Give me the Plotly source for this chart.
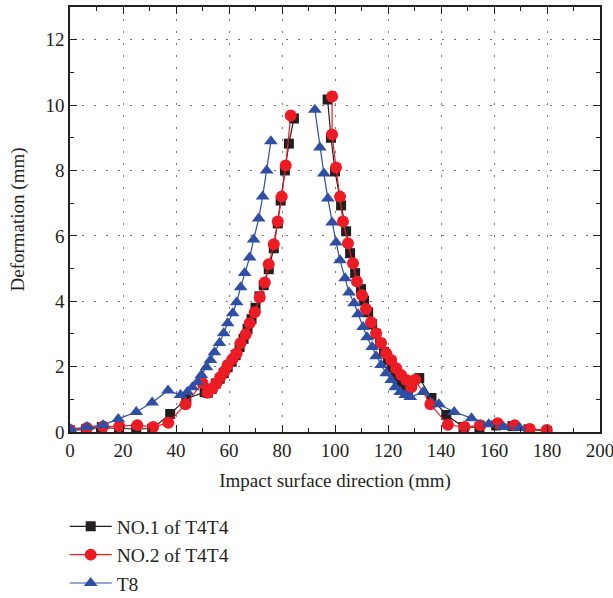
import plotly.graph_objects as go

# None separates the left branch from the right branch (not connected in the reference)
# NO.1 of T4T4 (black squares)
no1_x = [0, 6, 12, 18.5, 25, 31, 37.8, 43.9, 50.8, 52, 53.5, 55, 56.5, 58, 59.5, 61, 62.5, 64, 65.5,
         67, 68.5, 70, 71.5, 73.1, 75, 76.9, 78.4, 79.5, 81.1, 82.6, 84.5, None,
         97.2, 98.5, 100, 102.3, 104.2, 105.7, 107.6, 109.8, 111, 112.5, 114, 115.5, 117, 118.5,
         120, 121.5, 123, 124.5, 126, 127.5, 131.8, 136.4, 142, 148.5, 154.5, 160.8, 167, 173, 180]
no1_y = [0.05, 0.08, 0.15, 0.1, 0.1, 0.1, 0.55, 1.02, 1.22, 1.2, 1.32, 1.48, 1.63, 1.8, 1.98, 2.15, 2.35, 2.6, 2.85,
         3.15, 3.45, 3.8, 4.15, 4.49, 4.98, 5.62, 6.38, 7.08, 8.0, 8.82, 9.59, None,
         10.17, 9.0, 7.97, 6.93, 6.14, 5.47, 4.86, 4.37, 4.02, 3.66, 3.3, 3.0, 2.72, 2.45,
         2.2, 1.97, 1.76, 1.57, 1.42, 1.3, 1.65, 1.04, 0.52, 0.15, 0.15, 0.2, 0.18, 0.08, 0.03]

# NO.2 of T4T4 (red circles)
no2_x = [0, 6.4, 12.5, 18.6, 25.4, 31.4, 37.1, 43.6, 50, 51.9, 53.8, 55.3, 56.8, 58.3, 59.5, 61.4, 62.9,
         64.4, 66.3, 67.8, 69.7, 71.6, 73.5, 75, 76.9, 78.4, 79.9, 81.4, 83.3, None,
         98.9, 98.9, 100.4, 101.9, 103, 104.9, 106.8, 108.3, 110.2, 111.7, 113.6, 115.5, 117.4,
         119.3, 121.2, 123.1, 125, 126.9, 128.8, 130.3, 136, 142.6, 148.9, 154.9, 161.4, 167.8, 173.5, 179.9]
no2_y = [0.06, 0.12, 0.17, 0.18, 0.21, 0.15, 0.28, 0.85, 1.5, 1.2, 1.34, 1.5, 1.68, 1.86, 2.05, 2.23, 2.41,
         2.72, 2.99, 3.33, 3.66, 4.12, 4.57, 5.13, 5.74, 6.44, 7.2, 8.15, 9.68, None,
         10.26, 9.1, 8.09, 7.2, 6.44, 5.77, 5.16, 4.6, 4.18, 3.76, 3.36, 3.02, 2.72,
         2.41, 2.2, 1.95, 1.74, 1.59, 1.37, 1.6, 0.85, 0.22, 0.15, 0.21, 0.27, 0.21, 0.09, 0.06]

# T8 (blue triangles)
t8_x = [0, 6.4, 12.5, 18.2, 25, 31, 37, 41.7, 44.3, 46.2, 48.1, 49.6, 51.5, 53, 54.5, 56.4, 58, 59.5,
        61.4, 62.9, 64.4, 65.9, 67.8, 69.3, 71.2, 72.7, 74.2, 75.8, None,
        92.4, 94.3, 95.8, 97.3, 98.9, 100.4, 101.9, 103.8, 105.3, 107.2, 108.7, 110.6, 112.1, 114,
        115.5, 117.4, 119.3, 121.2, 122.7, 124.6, 126.5, 128.4, 133.3, 139.2, 145, 151.5, 158, 163.6, 169.7]
t8_y = [0.09, 0.15, 0.21, 0.4, 0.61, 0.9, 1.27, 1.13, 1.22, 1.37, 1.53, 1.74, 1.98, 2.2, 2.44, 2.72, 3.02, 3.33,
        3.63, 3.97, 4.43, 4.86, 5.34, 5.89, 6.53, 7.2, 8.0, 8.89, None,
        9.86, 8.7, 7.91, 7.14, 6.41, 5.8, 5.25, 4.7, 4.27, 3.94, 3.6, 3.21, 2.9, 2.6,
        2.32, 2.05, 1.8, 1.59, 1.37, 1.22, 1.13, 1.07, 1.22, 0.85, 0.61, 0.42, 0.24, 0.15, 0.12]

FONT = "Liberation Serif"
INK = "#231f20"

fig = go.Figure()
fig.add_trace(go.Scatter(x=no1_x, y=no1_y, mode="lines+markers", name="NO.1 of T4T4",
                         line=dict(color=INK, width=1.2),
                         marker=dict(symbol="square", size=10, color=INK)))
fig.add_trace(go.Scatter(x=no2_x, y=no2_y, mode="lines+markers", name="NO.2 of T4T4",
                         line=dict(color="#ed1c24", width=1.2),
                         marker=dict(symbol="circle", size=12, color="#ed1c24")))
fig.add_trace(go.Scatter(x=t8_x, y=t8_y, mode="lines+markers", name="T8",
                         line=dict(color="#2e4fa3", width=1.2),
                         marker=dict(symbol="triangle-up", size=12, color="#2e4fa3")))

axis_common = dict(
    showline=True, linecolor=INK, linewidth=1.5, mirror="ticks",
    ticks="inside", ticklen=7, tickwidth=1.3, tickcolor=INK,
    showgrid=True, gridcolor="#777777", griddash="2px,10px", gridwidth=1.2,
    zeroline=False, automargin=False, ticklabeloverflow="allow",
    tickfont=dict(family=FONT, size=19, color=INK),
)

fig.update_xaxes(range=[0, 200], tickmode="linear", tick0=0, dtick=20,
                 minor=dict(ticks="inside", ticklen=4, dtick=10, tickcolor=INK, showgrid=False),
                 title=dict(text="Impact surface direction (mm)", font=dict(family=FONT, size=19, color=INK),
                            standoff=14),
                 **axis_common)
fig.update_yaxes(range=[0, 13], tickmode="linear", tick0=0, dtick=2,
                 minor=dict(ticks="inside", ticklen=4, dtick=1, tickcolor=INK, showgrid=False),
                 title=dict(text="Deformation (mm)", font=dict(family=FONT, size=19, color=INK),
                            standoff=16),
                 **axis_common)

fig.update_layout(
    width=613, height=598,
    margin=dict(l=70, r=13, t=7, b=166, autoexpand=False),
    plot_bgcolor="white", paper_bgcolor="white",
    showlegend=True,
    legend=dict(x=-0.01, xanchor="left", yref="container", y=0.152, yanchor="top",
                font=dict(family=FONT, size=19.5, color=INK),
                bgcolor="rgba(0,0,0,0)", tracegroupgap=1, itemwidth=42),
)

fig.write_html("out.html")
